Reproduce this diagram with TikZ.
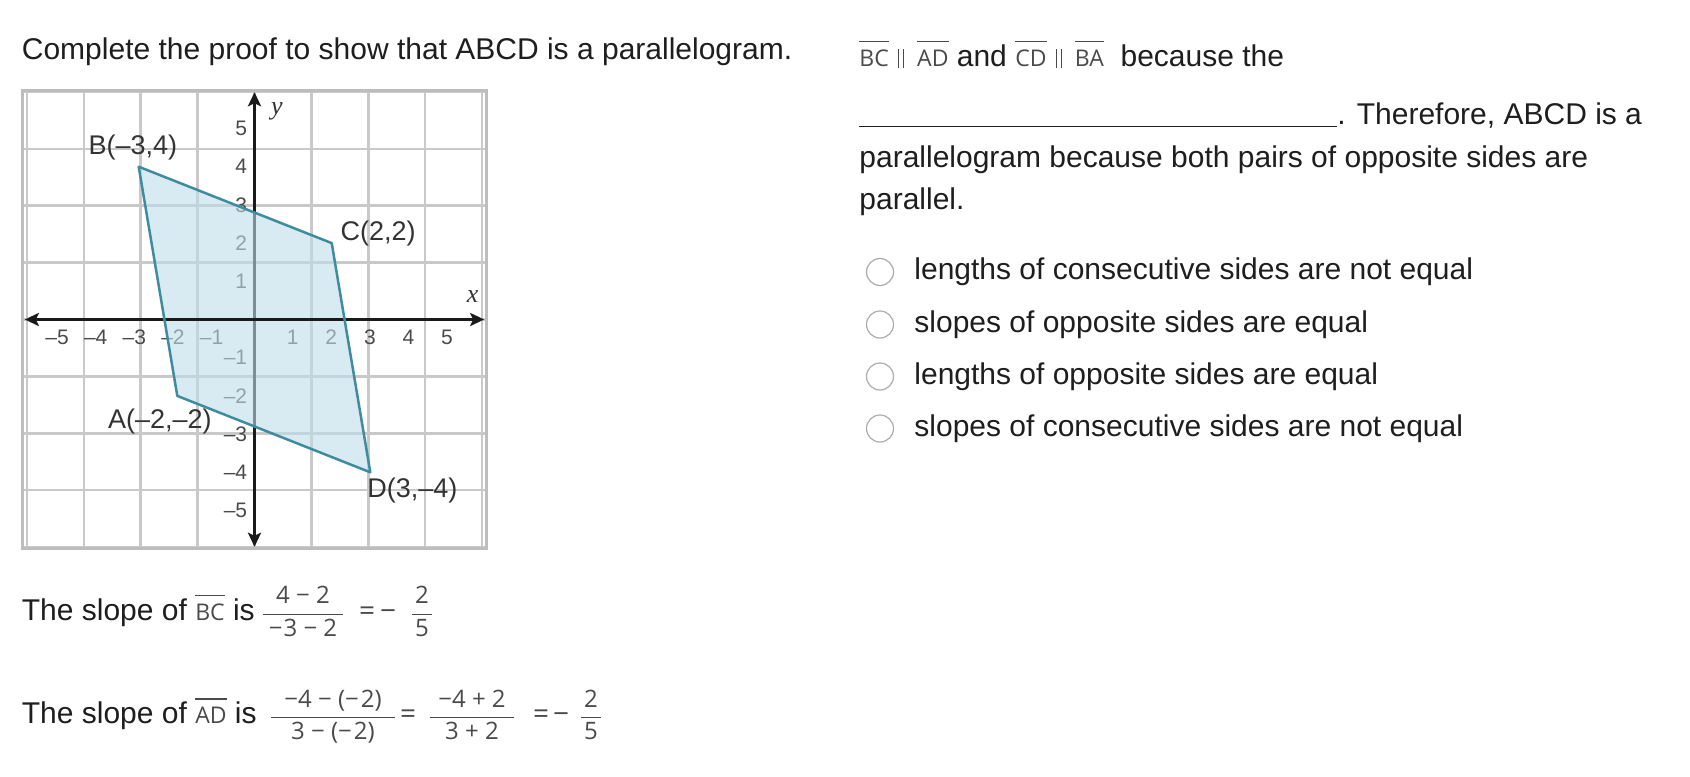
\documentclass[tikz,border=0pt]{standalone}
\usepackage{fontspec}
\setmainfont{Liberation Sans}
\newfontfamily\segfont{Open Sans}
\newfontfamily\serifit{Liberation Serif}
\usetikzlibrary{arrows.meta}
\definecolor{ink}{HTML}{1E1E1E}
\definecolor{segc}{HTML}{4A4A4A}
\definecolor{gridc}{HTML}{C9C9C9}
\definecolor{gridb}{HTML}{BDBDBD}
\definecolor{polyline}{RGB}{62,140,158}
\definecolor{polyfill}{RGB}{190,222,235}
\definecolor{tickc}{HTML}{4A4A4A}
\definecolor{labc}{HTML}{333333}
\definecolor{radioc}{HTML}{ADADAD}
\definecolor{axisc}{HTML}{1A1A1A}
\newsavebox\segbox
\newcommand\seg[1]{\sbox\segbox{\segfont\fontsize{11.5}{14}\selectfont\color{segc}#1}\leavevmode\rlap{\color{segc}\rule[12pt]{\wd\segbox}{0.7pt}}\usebox\segbox}
\newcommand\pl{\hspace{4.5pt}{\color{segc}\rule[-1pt]{0.6pt}{9.5pt}\hspace{2pt}\rule[-1pt]{0.6pt}{9.5pt}}\hspace{6.5pt}}
\newcommand\fr[3]{{\color{segc}\nulldelimiterspace=0pt$\displaystyle\frac{\hbox to #1{\hss\segfont #2\hss}}{\hbox to #1{\hss\segfont #3\hss}}$}}
\begin{document}
\begin{tikzpicture}[x=0.5pt,y=-0.5pt,
  txt/.style={inner sep=0pt, anchor=base west, font=\fontsize{15}{18}\selectfont, text=ink},
  mth/.style={inner sep=0pt, anchor=base, text=segc, font=\fontsize{12}{14}\selectfont\segfont},
  op/.style={inner sep=0pt, anchor=base, text=segc, font=\fontsize{14}{16}\selectfont\segfont},
  tick/.style={inner sep=0pt, text=tickc, font=\fontsize{10.5}{12}\selectfont},
  vlab/.style={inner sep=0pt, text=labc, font=\fontsize{13.5}{16}\selectfont},
  axlab/.style={inner sep=0pt, text=labc, font=\fontsize{13}{15}\serifit\itshape},
  axis/.style={axisc, line width=1.5pt, {Stealth[length=7pt,width=6.5pt,inset=1.5pt]}-{Stealth[length=7pt,width=6.5pt,inset=1.5pt]}},
  radio/.style={draw=radioc, circle, minimum size=13.5pt, inner sep=0pt, line width=0.6pt, fill=white}]
\useasboundingbox (0,0) rectangle (1690,776);

\node[txt] (title) at (21.5,59.5) {Complete the proof to show that ABCD is a parallelogram.};

% graph
\begin{scope}[shift={(254.5,319.5)}, x=19.3pt, y=19.1pt]
  \draw[gridc, line width=1.2pt] (-6,-6) grid (6,6);
  \draw[gridb, line width=1.5pt] (-6,-6) rectangle (6,6);
  \foreach \i in {-5,...,-1} {
    \node[tick, anchor=east] (xl\i) at (\i+0.2,-0.47) {–\the\numexpr-\i\relax};
    \node[tick, anchor=east] (yl\i) at (-0.18,\i) {–\the\numexpr-\i\relax};
  }
  \foreach \i in {1,...,5} {
    \node[tick, anchor=east] (xl\i) at (\i+0.15,-0.47) {\i};
    \node[tick, anchor=east] (yl\i) at (-0.18,\i) {\i};
  }
  \coordinate (ya) at (0,-5.95);
  \coordinate (yb) at (0,5.95);
  \coordinate (xa) at (-5.95,0);
  \coordinate (xb) at (5.95,0);
  \draw[axis] (ya) -- (yb);
  \coordinate (A) at (-2,-2);
  \coordinate (B) at (-3,4);
  \coordinate (C) at (2,2);
  \coordinate (D) at (3,-4);
  \fill[polyfill, fill opacity=0.6] (A) -- (B) -- (C) -- (D) -- cycle;
  \draw[axis] (xa) -- (xb);
  \draw[polyline, line width=1.25pt, line join=round] (A) -- (B) -- (C) -- (D) -- cycle;
  \node[axlab] (xlab) at (5.65,0.59) {x};
  \node[axlab] (ylab) at (0.58,5.45) {y};
  \node[vlab] (Bl) at (-3.15,4.5) {B(–3,4)};
  \node[vlab] (Cl) at (3.2,2.25) {C(2,2)};
  \node[vlab] (Al) at (-2.45,-2.66) {A(–2,–2)};
  \node[vlab] (Dl) at (4.09,-4.48) {D(3,–4)};
\end{scope}

% slopes
\node[txt] (s1) at (21.5,620) {The slope of \seg{BC} is};
\node[mth] (f1) at (303,620) {\fr{40pt}{4 − 2}{−\kern0.5pt3 − 2}};
\node[op] (e1) at (367,620) {=};
\node[op] (m1) at (388,620) {−};
\node[mth] (f2) at (422,620) {\fr{10pt}{2}{5}};

\node[txt] (s2) at (21.5,723.5) {The slope of \seg{AD} is};
\node[mth] (g1) at (333,723.5) {\fr{62pt}{−4 − (−\kern1pt2)}{3 − (−\kern1pt2)}};
\node[op] (e2) at (408,723.5) {=};
\node[mth] (g2) at (472,723.5) {\fr{42pt}{−4 + 2}{3 + 2}};
\node[op] (e3) at (541,723.5) {=};
\node[op] (m2) at (561,723.5) {−};
\node[mth] (g3) at (591,723.5) {\fr{10pt}{2}{5}};

% right text
\node[txt] (r1) at (859,66) {\seg{BC}\pl\seg{AD} and \seg{CD}\pl\seg{BA}\ \ because the};
\node[txt] (r2) at (859,124) {\rule[-1.5pt]{239pt}{0.75pt}. Therefore, ABCD is a};
\node[txt] (r3) at (859,167) {parallelogram because both pairs of opposite sides are};
\node[txt] (r4) at (859,209) {parallel.};

% options
\node[radio] (rb1) at (880,272) {};
\node[radio] (rb2) at (880,324.5) {};
\node[radio] (rb3) at (880,376.5) {};
\node[radio] (rb4) at (880,428.5) {};
\node[txt] (o1) at (914,279.5) {lengths of consecutive sides are not equal};
\node[txt] (o2) at (914,332) {slopes of opposite sides are equal};
\node[txt] (o3) at (914,384) {lengths of opposite sides are equal};
\node[txt] (o4) at (914,436) {slopes of consecutive sides are not equal};
\end{tikzpicture}
\end{document}
